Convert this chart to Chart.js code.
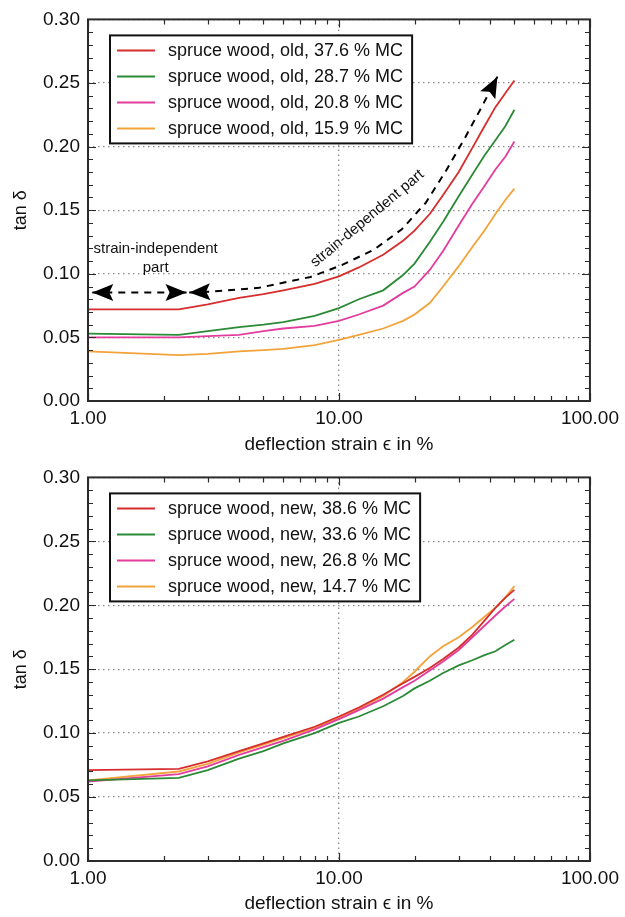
<!DOCTYPE html>
<html>
<head>
<meta charset="utf-8">
<title>tan δ of spruce wood vs deflection strain</title>
<script src="https://cdn.jsdelivr.net/npm/chart.js@4.4.1/dist/chart.umd.min.js"></script>
<style>
  html, body { margin: 0; padding: 0; background: #fff; }
  canvas { display: block; }
</style>
</head>
<body>
<canvas id="oldChart" width="625" height="458"></canvas>
<canvas id="newChart" width="625" height="459"></canvas>
<script>
// deflection strain steps (%) shared by every curve
const strain = [1, 2.3, 3, 4, 5, 6, 8, 10, 12, 15, 18, 20, 23, 26, 30, 34, 38, 42, 46, 50];

// old spruce wood, tan δ
const oldLabels = [
    'spruce wood, old, 37.6 % MC',
    'spruce wood, old, 28.7 % MC',
    'spruce wood, old, 20.8 % MC',
    'spruce wood, old, 15.9 % MC'
];
const old376 = [0.072, 0.072, 0.076, 0.081, 0.084, 0.087, 0.092, 0.098, 0.105, 0.115, 0.126, 0.134, 0.147, 0.162, 0.180, 0.199, 0.216, 0.231, 0.242, 0.252];
const old287 = [0.053, 0.052, 0.055, 0.058, 0.060, 0.062, 0.067, 0.073, 0.080, 0.087, 0.099, 0.108, 0.125, 0.141, 0.161, 0.178, 0.193, 0.205, 0.216, 0.229];
const old208 = [0.050, 0.050, 0.051, 0.052, 0.055, 0.057, 0.059, 0.063, 0.068, 0.075, 0.085, 0.090, 0.103, 0.118, 0.138, 0.155, 0.169, 0.182, 0.192, 0.204];
const old159 = [0.039, 0.036, 0.037, 0.039, 0.040, 0.041, 0.044, 0.048, 0.052, 0.057, 0.063, 0.068, 0.077, 0.090, 0.106, 0.121, 0.134, 0.147, 0.158, 0.167];

// new spruce wood, tan δ
const newLabels = [
    'spruce wood, new, 38.6 % MC',
    'spruce wood, new, 33.6 % MC',
    'spruce wood, new, 26.8 % MC',
    'spruce wood, new, 14.7 % MC'
];
const new386 = [0.071, 0.072, 0.078, 0.086, 0.092, 0.097, 0.105, 0.113, 0.120, 0.130, 0.139, 0.144, 0.151, 0.158, 0.167, 0.177, 0.188, 0.198, 0.206, 0.212];
const new336 = [0.063, 0.065, 0.071, 0.080, 0.086, 0.092, 0.100, 0.108, 0.113, 0.121, 0.129, 0.135, 0.141, 0.147, 0.153, 0.157, 0.161, 0.164, 0.169, 0.173];
const new268 = [0.062, 0.068, 0.074, 0.083, 0.089, 0.094, 0.103, 0.111, 0.118, 0.127, 0.136, 0.141, 0.149, 0.156, 0.165, 0.175, 0.184, 0.192, 0.199, 0.205];
const new147 = [0.063, 0.070, 0.076, 0.085, 0.091, 0.096, 0.104, 0.112, 0.119, 0.129, 0.140, 0.148, 0.160, 0.168, 0.175, 0.183, 0.191, 0.198, 0.206, 0.215];

// axis ranges and tick steps
const xDecades = [1, 10, 100];
const yMax = 0.30;
const yMajorStep = 0.05;
const yMinorStep = 0.01;

// dashed double arrows and notes, in data units (strain %, tan δ)
const independentArrow = [[1.04, 0.0853], [2.47, 0.0853]];
const dependentArrow = [
    [2.53, 0.0853], [3.1, 0.086], [4.8, 0.089], [7.7, 0.0975], [10.3, 0.107], [13.8, 0.119],
    [17.8, 0.135], [22.2, 0.156], [26.7, 0.181], [32, 0.208], [37, 0.231], [42.8, 0.255]
];
const oldNotes = [
    { lines: ['strain-independent', 'part'], x: 1.86, y: 0.112, angle: 0 },
    { lines: ['strain-dependent part'], x: 12.97, y: 0.1434, angle: -40 }
];

const seriesColors = ['#d62d2d', '#2b8a36', '#e23d9e', '#f2a33a'];
const frameColor = '#2b2b2b';
const gridColor = '#8c8c8c';
const fontFamily = "'Liberation Sans', Arial, Helvetica, sans-serif";

Chart.defaults.font.family = fontFamily;
Chart.defaults.color = '#111';

function buildDatasets(labels, series) {
    return labels.map((label, i) => ({
        label: label,
        data: strain.map((x, j) => ({ x: x, y: series[i][j] })),
        borderColor: seriesColors[i],
        backgroundColor: seriesColors[i],
        borderWidth: 1.8,
        pointRadius: 0,
        tension: 0,
        fill: false
    }));
}

// inward ticks on all four sides plus the closed frame
const framePlugin = {
    id: 'frameTicks',
    afterDraw(chart) {
        const { ctx, chartArea: a, scales: { x, y } } = chart;
        ctx.save();
        ctx.strokeStyle = frameColor;
        ctx.lineWidth = 1.2;
        ctx.beginPath();
        const nY = Math.round(yMax / yMinorStep);
        const perMajor = Math.round(yMajorStep / yMinorStep);
        for (let i = 0; i <= nY; i++) {
            const py = Math.round(y.getPixelForValue(i * yMinorStep)) + 0.5;
            const len = i % perMajor === 0 ? 8 : 5;
            ctx.moveTo(a.left, py); ctx.lineTo(a.left + len, py);
            ctx.moveTo(a.right, py); ctx.lineTo(a.right - len, py);
        }
        for (let d = 0; d < xDecades.length - 1; d++) {
            for (let k = 1; k <= 10; k++) {
                const px = Math.round(x.getPixelForValue(k * xDecades[d])) + 0.5;
                const len = (k === 1 || k === 10) ? 8 : 5;
                ctx.moveTo(px, a.bottom); ctx.lineTo(px, a.bottom - len);
                ctx.moveTo(px, a.top); ctx.lineTo(px, a.top + len);
            }
        }
        ctx.stroke();
        ctx.lineWidth = 2;
        ctx.strokeRect(a.left, a.top, a.right - a.left, a.bottom - a.top);
        ctx.restore();
    }
};

// boxed legend in the upper left of the plot
const boxLegendPlugin = {
    id: 'boxLegend',
    afterDraw(chart, args, opts) {
        const { ctx, chartArea: a } = chart;
        const sets = chart.data.datasets;
        ctx.save();
        ctx.font = '18px ' + fontFamily;
        const textW = Math.max(...sets.map(ds => ctx.measureText(ds.label).width));
        const left = a.left + opts.offsetX;
        const top = a.top + opts.offsetY;
        const w = 58 + textW + 9;
        const h = 30 + (sets.length - 1) * opts.rowHeight;
        ctx.fillStyle = '#fff';
        ctx.fillRect(left, top, w, h);
        ctx.strokeStyle = '#111';
        ctx.lineWidth = 2;
        ctx.strokeRect(left, top, w, h);
        ctx.textBaseline = 'middle';
        sets.forEach((ds, i) => {
            const cy = top + 15 + i * opts.rowHeight;
            ctx.strokeStyle = ds.borderColor;
            ctx.lineWidth = 2;
            ctx.beginPath();
            ctx.moveTo(left + 7, cy);
            ctx.lineTo(left + 45, cy);
            ctx.stroke();
            ctx.fillStyle = '#111';
            ctx.fillText(ds.label, left + 58, cy + 1);
        });
        ctx.restore();
    }
};

function arrowHead(ctx, tip, from) {
    const ang = Math.atan2(tip[1] - from[1], tip[0] - from[0]);
    ctx.save();
    ctx.translate(tip[0], tip[1]);
    ctx.rotate(ang);
    ctx.beginPath();
    ctx.moveTo(0, 0);
    ctx.lineTo(-21, -8.5);
    ctx.lineTo(-17, 0);
    ctx.lineTo(-21, 8.5);
    ctx.closePath();
    ctx.fill();
    ctx.restore();
}

// dashed arrows and rotated notes
const notesPlugin = {
    id: 'strainNotes',
    afterDraw(chart, args, opts) {
        if (!opts.arrows) return;
        const { ctx, scales: { x, y } } = chart;
        ctx.save();
        ctx.strokeStyle = '#000';
        ctx.fillStyle = '#000';
        ctx.lineWidth = 2;
        opts.arrows.forEach(path => {
            const pts = path.map(p => [x.getPixelForValue(p[0]), y.getPixelForValue(p[1])]);
            ctx.setLineDash([7, 6]);
            ctx.beginPath();
            pts.forEach((p, i) => i ? ctx.lineTo(p[0], p[1]) : ctx.moveTo(p[0], p[1]));
            ctx.stroke();
            ctx.setLineDash([]);
            arrowHead(ctx, pts[0], pts[1]);
            arrowHead(ctx, pts[pts.length - 1], pts[pts.length - 2]);
        });
        ctx.font = '15px ' + fontFamily;
        ctx.textAlign = 'center';
        ctx.textBaseline = 'middle';
        ctx.fillStyle = '#111';
        opts.notes.forEach(n => {
            ctx.save();
            ctx.translate(x.getPixelForValue(n.x), y.getPixelForValue(n.y));
            ctx.rotate(n.angle * Math.PI / 180);
            const off = (n.lines.length - 1) * 19 / 2;
            n.lines.forEach((line, i) => ctx.fillText(line, 0, i * 19 - off));
            ctx.restore();
        });
        ctx.restore();
    }
};

function makeChart(id, labels, series, topPad, xHeight, notes) {
    return new Chart(document.getElementById(id), {
        type: 'line',
        data: { datasets: buildDatasets(labels, series) },
        plugins: [framePlugin, boxLegendPlugin, notesPlugin],
        options: {
            responsive: false,
            animation: false,
            layout: { padding: { top: topPad, right: 32, left: 0, bottom: 0 } },
            plugins: {
                legend: { display: false },
                tooltip: { enabled: false },
                boxLegend: { offsetX: 22, offsetY: 16, rowHeight: 26 },
                strainNotes: notes
            },
            scales: {
                x: {
                    type: 'logarithmic',
                    min: xDecades[0],
                    max: xDecades[xDecades.length - 1],
                    afterBuildTicks: s => { s.ticks = xDecades.map(v => ({ value: v })); },
                    afterFit: s => { s.height = xHeight; },
                    ticks: {
                        autoSkip: false,
                        maxRotation: 0,
                        padding: 6,
                        font: { size: 19 },
                        callback: v => Number(v).toFixed(2)
                    },
                    grid: { color: gridColor, lineWidth: 1.3, drawTicks: false },
                    border: { display: false, dash: [1.5, 3.5] },
                    title: {
                        display: true,
                        text: 'deflection strain ϵ in %',
                        font: { size: 19 },
                        padding: { top: 0, bottom: 2 }
                    }
                },
                y: {
                    type: 'linear',
                    min: 0,
                    max: yMax,
                    afterBuildTicks: s => {
                        const n = Math.round(yMax / yMajorStep);
                        s.ticks = Array.from({ length: n + 1 }, (_, i) => ({ value: +(i * yMajorStep).toFixed(2) }));
                    },
                    afterFit: s => { s.width = 88; },
                    ticks: {
                        autoSkip: false,
                        padding: 8,
                        font: { size: 19 },
                        callback: v => Number(v).toFixed(2)
                    },
                    grid: { color: gridColor, lineWidth: 1.3, drawTicks: false },
                    border: { display: false, dash: [1.5, 3.5] },
                    title: {
                        display: true,
                        text: 'tan δ',
                        font: { size: 18 },
                        padding: { top: 10, bottom: 0 }
                    }
                }
            }
        }
    });
}

makeChart('oldChart', oldLabels, [old376, old287, old208, old159], 14, 57,
    { arrows: [independentArrow, dependentArrow], notes: oldNotes });
makeChart('newChart', newLabels, [new386, new336, new268, new147], 15, 56, {});
</script>
</body>
</html>
